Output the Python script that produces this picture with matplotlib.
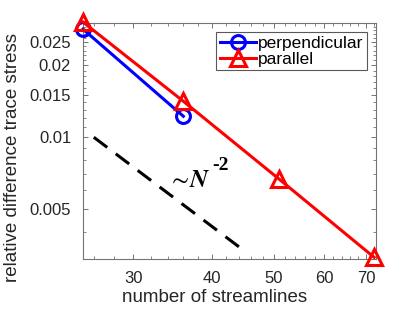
import matplotlib
matplotlib.use("Agg")
import matplotlib.pyplot as plt
from matplotlib.ticker import FixedLocator, NullFormatter

plt.rcParams['font.family'] = ['Liberation Sans', 'DejaVu Sans']
plt.rcParams['mathtext.fontset'] = 'stix'

# --- data ---
n_perp = [25, 36]
err_perp = [0.0283, 0.01224]

n_par = [25, 36, 51, 72]
err_par = [0.0303, 0.01414, 0.00668, 0.00315]

# reference slope line ~N^-2
n_ref = [26, 45]
err_ref = [0.0100, 0.00334]

xticks = [30, 40, 50, 60, 70]
yticks = [0.005, 0.01, 0.015, 0.02, 0.025]
ytick_labels = ['0.005', '0.01', '0.015', '0.02', '0.025']

# --- figure ---
fig = plt.figure(figsize=(4.15, 3.12), dpi=100)
ax = fig.add_axes([0.2, 0.170, 0.706, 0.756])

ax.plot(n_perp, err_perp, color='#0000ff', lw=2.2, marker='o', ms=10,
        mfc='none', mew=2.2, label='perpendicular', clip_on=False, zorder=3)
ax.plot(n_par, err_par, color='#ff0000', lw=2.2, marker='^', ms=11,
        mfc='none', mew=2.2, label='parallel', clip_on=False, zorder=4)
ax.plot(n_ref, err_ref, color='black', lw=2.2, linestyle=(0, (5.5, 3.5)))

ax.set_xscale('log')
ax.set_yscale('log')
ax.set_xlim(25, 72.5)
ax.set_ylim(0.0031, 0.030)

ax.xaxis.set_major_locator(FixedLocator(xticks))
ax.set_xticklabels([str(t) for t in xticks])
ax.xaxis.set_minor_locator(FixedLocator([v for v in range(26, 73, 2) if v not in xticks]))
ax.xaxis.set_minor_formatter(NullFormatter())

ax.yaxis.set_major_locator(FixedLocator(yticks))
ax.set_yticklabels(ytick_labels)
ax.yaxis.set_minor_locator(FixedLocator([k / 1000 for k in range(3, 31) if k / 1000 not in yticks]))
ax.yaxis.set_minor_formatter(NullFormatter())

ax.tick_params(which='both', direction='in', top=True, right=True,
               color='0.45', labelcolor='0.15', labelsize=12, pad=8.5)
ax.tick_params(which='major', length=3.5, width=0.7)
ax.tick_params(which='minor', length=2, width=0.6)
for s in ax.spines.values():
    s.set_color('0.45')
    s.set_linewidth(0.8)

ax.set_xlabel('number of streamlines', fontsize=13.5, color='0.15')
ax.set_ylabel('relative difference trace stress', fontsize=13.5, color='0.15')
ax.xaxis.label.set_va('center')
ax.yaxis.label.set_va('center')
ax.xaxis.set_label_coords(0.45, -0.165)
ax.yaxis.set_label_coords(-0.239, 0.432)

ax.text(0.29, 0.335, r'$\sim\!\mathbfit{N}$', transform=ax.transAxes,
        fontsize=18, va='center', ha='left')
ax.text(0.44, 0.395, '-2', transform=ax.transAxes, fontsize=14,
        family='Liberation Serif', weight='bold',
        va='center', ha='left')

leg = ax.legend(loc='upper right', bbox_to_anchor=(0.969, 0.962),
                borderaxespad=0, fontsize=12.5, fancybox=False,
                framealpha=1, edgecolor='0.35', handlelength=2.1,
                handletextpad=0.1, borderpad=0.2, labelspacing=0.05)
leg.get_frame().set_linewidth(0.8)

fig.savefig('out.png', dpi=100)
